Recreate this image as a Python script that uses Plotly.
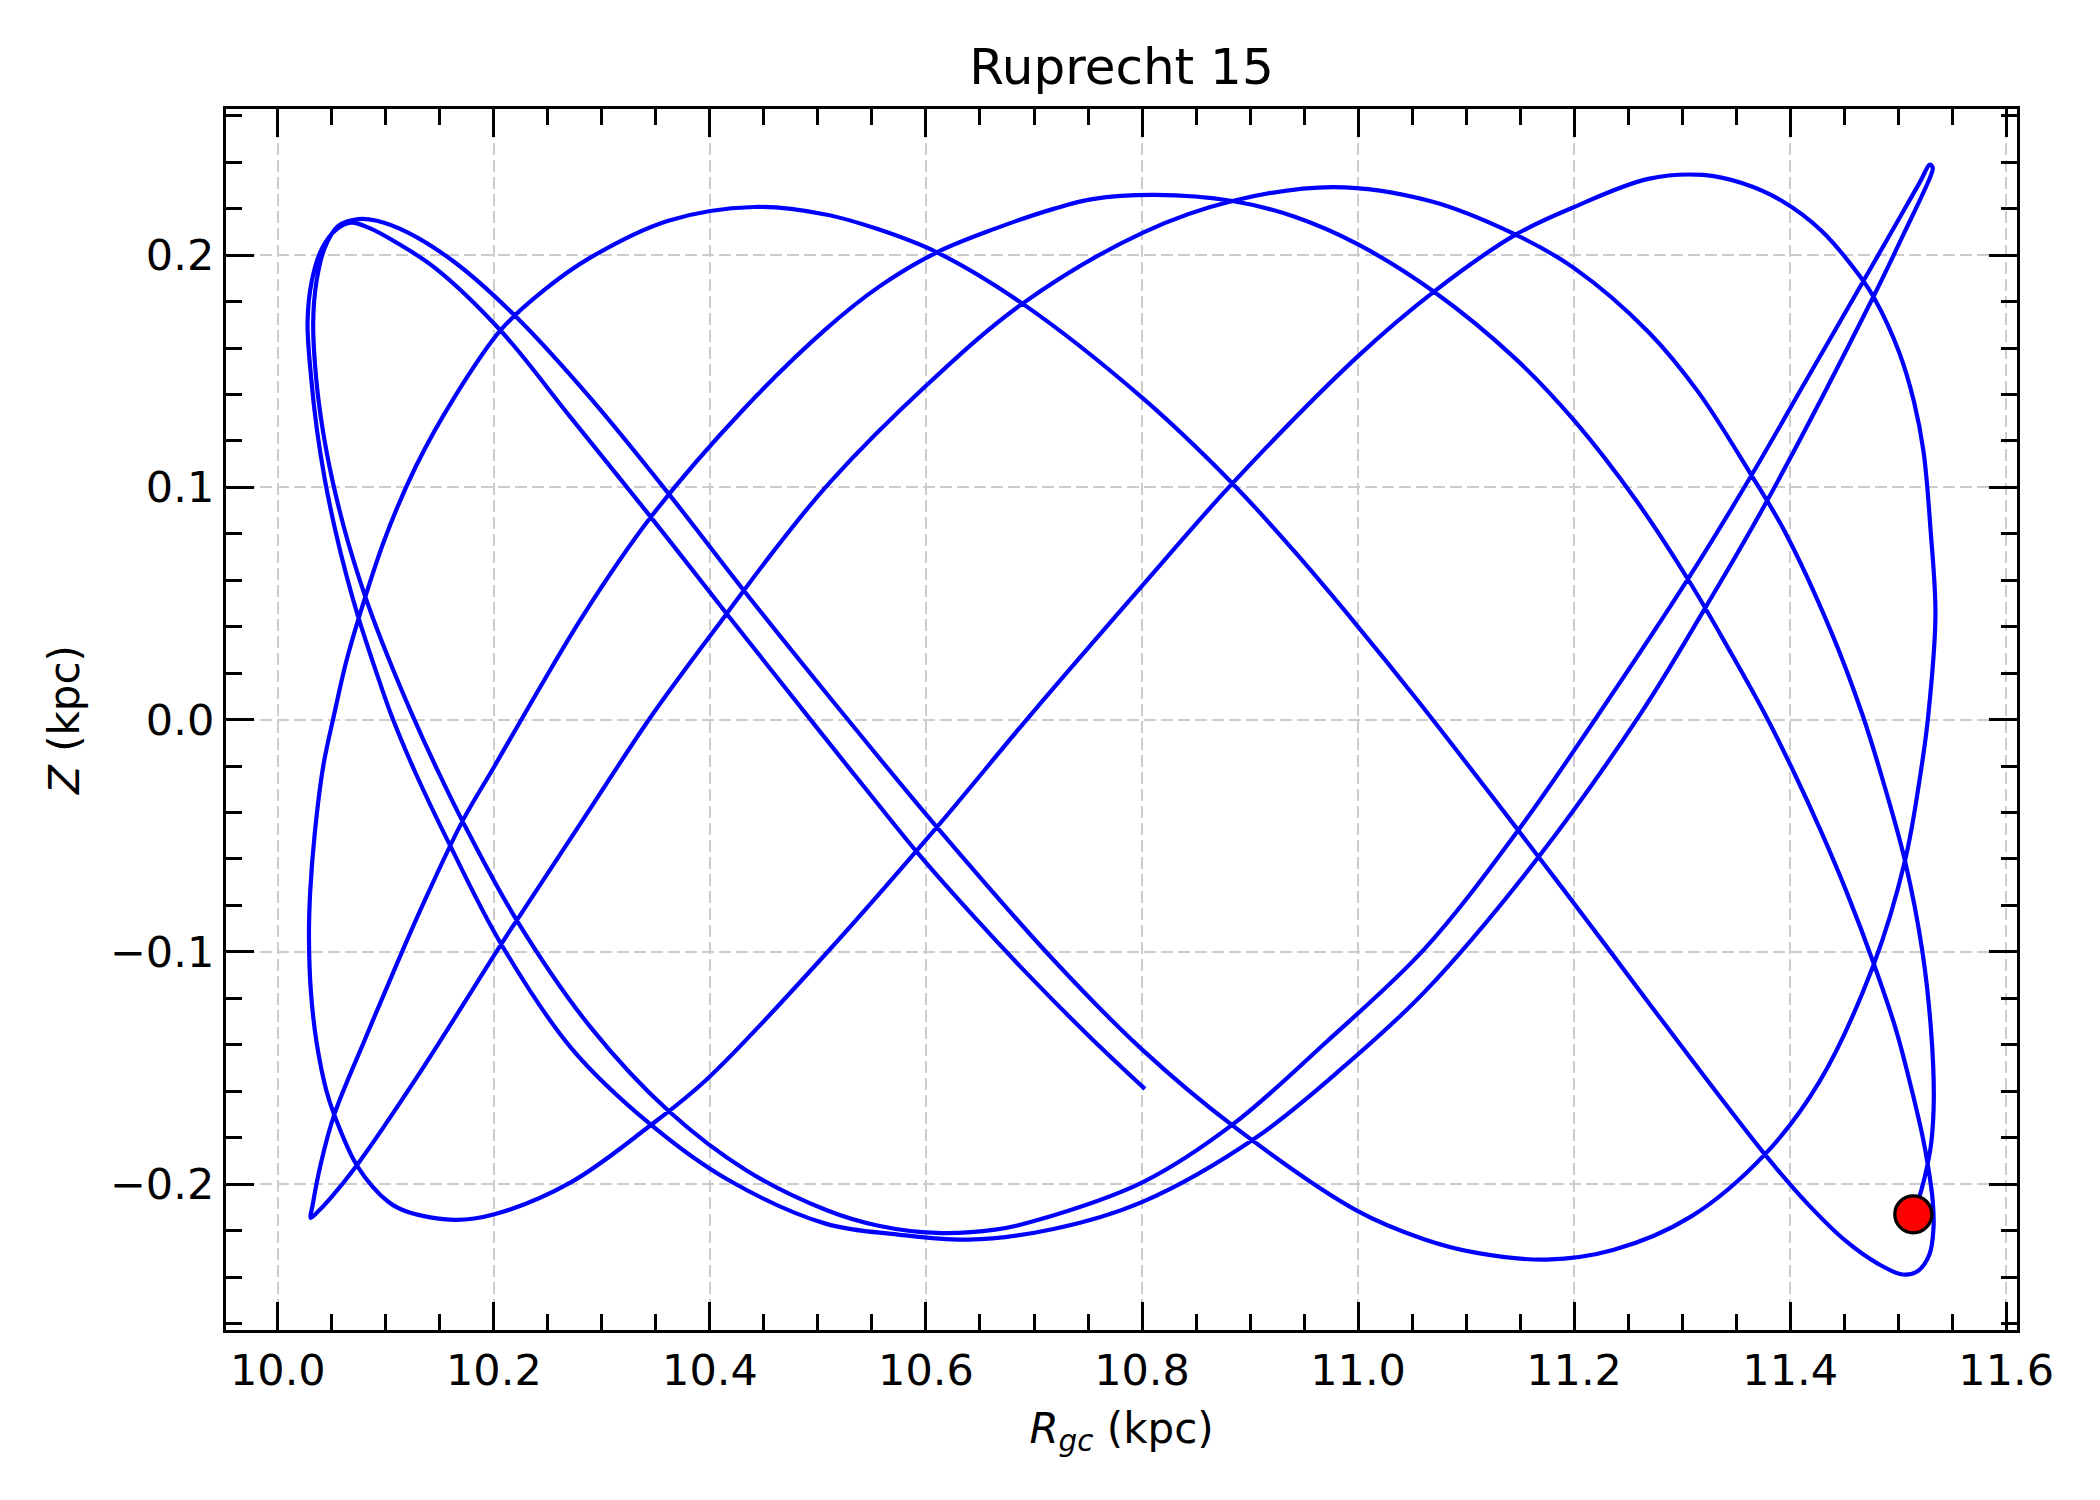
import plotly.graph_objects as go

# Orbit of Ruprecht 15 in the meridional plane.
# Legs are in time order, from the free end of the track to the present position.

# free end -> upper-left loop -> trough -> upper-right cusp
leg1_r = [10.8027, 10.7541, 10.7001, 10.6461, 10.5903, 10.5453, 10.5021, 10.4155, 10.3453,
          10.2716, 10.2068, 10.1457, 10.1097, 10.0845, 10.0680, 10.0540, 10.0410, 10.0315,
          10.0275, 10.0309, 10.0362, 10.0438, 10.0529, 10.0637, 10.0741, 10.0908, 10.1050,
          10.1277, 10.1601, 10.2068, 10.2716, 10.3453, 10.4155, 10.5070, 10.5741, 10.6389,
          10.7181, 10.8009, 10.9053, 10.9881, 11.0620, 11.1658, 11.2613, 11.3225, 11.3784,
          11.4775, 11.5050, 11.5300, 11.5320, 11.5295]
leg1_z = [-0.1590, -0.1377, -0.1125, -0.0857, -0.0563, -0.0304, -0.0053, 0.0456, 0.0872,
          0.1298, 0.1672, 0.1944, 0.2054, 0.2117, 0.2140, 0.2110, 0.2030, 0.1890,
          0.1712, 0.1468, 0.1247, 0.1026, 0.0821, 0.0617, 0.0447, 0.0209, 0.0020,
          -0.0232, -0.0548, -0.0967, -0.1414, -0.1744, -0.1978, -0.2170, -0.2217, -0.2239,
          -0.2193, -0.2075, -0.1800, -0.1489, -0.1170, -0.0599, 0.0024, 0.0490, 0.0940,
          0.1825, 0.2090, 0.2340, 0.2375, 0.2390]

# cusp -> trough -> second upper-left loop
leg2_r = [11.5200, 11.5000, 11.4690, 11.4150, 11.3642, 11.3081, 11.2180, 11.1477, 11.0620,
          10.9701, 10.8837, 10.8009, 10.7001, 10.6641, 10.6101, 10.5561, 10.5070, 10.4335,
          10.3615, 10.2896, 10.2212, 10.1709, 10.1475, 10.1241, 10.1072, 10.0872, 10.0747,
          10.0616, 10.0507, 10.0416, 10.0355, 10.0327, 10.0357, 10.0433, 10.0557, 10.0742]
leg2_z = [0.2313, 0.2150, 0.1898, 0.1462, 0.1052, 0.0625, -0.0009, -0.0480, -0.0985,
          -0.1390, -0.1744, -0.1991, -0.2159, -0.2196, -0.2210, -0.2179, -0.2110, -0.1940,
          -0.1684, -0.1325, -0.0864, -0.0437, -0.0215, 0.0024, 0.0209, 0.0447, 0.0617,
          0.0821, 0.1026, 0.1247, 0.1468, 0.1706, 0.1884, 0.2030, 0.2125, 0.2155]

# loop -> lower-right trough -> outer right side -> peak near 11.3 kpc
leg3_r = [10.0917, 10.1205, 10.1637, 10.2212, 10.2896, 10.3615, 10.4317, 10.5119, 10.6101,
          10.7181, 10.8009, 10.8837, 10.9989, 11.0610, 11.1099, 11.1748, 11.2360, 11.3081,
          11.3766, 11.4270, 11.4775, 11.5063, 11.5207, 11.5280, 11.5345, 11.5301, 11.5235,
          11.5147, 11.5008, 11.4782, 11.4658, 11.4292, 11.3925, 11.3559, 11.3193]
leg3_z = [0.2148, 0.2097, 0.1969, 0.1731, 0.1383, 0.0974, 0.0554, 0.0090, -0.0463,
          -0.1035, -0.1424, -0.1747, -0.2114, -0.2237, -0.2296, -0.2325, -0.2284, -0.2140,
          -0.1872, -0.1560, -0.1052, -0.0608, -0.0232, 0.0024, 0.0450, 0.0809, 0.1153,
          0.1368, 0.1583, 0.1812, 0.1901, 0.2104, 0.2233, 0.2309, 0.2345]

# peak -> lower-left bowl -> peak near 10.44 kpc -> lower-right loop
leg4_r = [11.2686, 11.2000, 11.1459, 11.0700, 11.0000, 10.8837, 10.8009, 10.6950, 10.6101,
          10.5021, 10.3975, 10.3435, 10.2716, 10.1996, 10.1637, 10.1205, 10.1025, 10.0737,
          10.0522, 10.0450, 10.0360, 10.0306, 10.0288, 10.0299, 10.0342, 10.0421, 10.0522,
          10.0629, 10.0755, 10.0989, 10.1277, 10.1637, 10.2068, 10.2464, 10.2896, 10.3615,
          10.4406, 10.5070, 10.5560, 10.6101, 10.6893, 10.8009, 10.8837, 10.9413, 10.9989,
          11.0559, 11.1495, 11.2108, 11.2721, 11.3766, 11.4162, 11.4523, 11.4811, 11.5043,
          11.5182, 11.5290, 11.5327, 11.5320, 11.5274, 11.5222, 11.5151]
leg4_z = [0.2328, 0.2207, 0.2088, 0.1842, 0.1565, 0.1017, 0.0580, 0.0010, -0.0463,
          -0.1035, -0.1547, -0.1752, -0.1991, -0.2131, -0.2154, -0.2120, -0.2077, -0.1923,
          -0.1701, -0.1599, -0.1394, -0.1172, -0.0933, -0.0745, -0.0488, -0.0198, 0.0024,
          0.0243, 0.0447, 0.0777, 0.1090, 0.1390, 0.1680, 0.1849, 0.1990, 0.2148,
          0.2207, 0.2175, 0.2111, 0.2012, 0.1791, 0.1383, 0.1017, 0.0723, 0.0406,
          0.0078, -0.0484, -0.0858, -0.1238, -0.1872, -0.2085, -0.2248, -0.2342, -0.2389,
          -0.2374, -0.2302, -0.2188, -0.2073, -0.1915, -0.1786, -0.1643]

# loop -> peak near 10.81 kpc -> lower-left cusp
leg5_r = [11.4984, 11.4775, 11.4525, 11.4292, 11.4040, 11.3766, 11.3441, 11.3081, 11.2577,
          11.2000, 11.1459, 11.0703, 11.0000, 10.9413, 10.8837, 10.8117, 10.7541, 10.7181,
          10.6641, 10.6101, 10.5560, 10.5070, 10.4299, 10.3453, 10.2824, 10.2284, 10.1996,
          10.1709, 10.1342, 10.1097, 10.0809, 10.0522, 10.0396, 10.0324, 10.0305]
leg5_z = [-0.1342, -0.1052, -0.0745, -0.0488, -0.0232, 0.0024, 0.0296, 0.0584, 0.0942,
          0.1288, 0.1553, 0.1842, 0.2046, 0.2165, 0.2233, 0.2259, 0.2241, 0.2199,
          0.2114, 0.2012, 0.1862, 0.1680, 0.1330, 0.0872, 0.0447, 0.0024, -0.0208,
          -0.0437, -0.0797, -0.1057, -0.1374, -0.1701, -0.1915, -0.2085, -0.2145]

# cusp -> peak near 10.98 kpc -> present position
leg6_r = [10.0365, 10.0486, 10.0737, 10.1277, 10.2068, 10.2212, 10.2860, 10.3471, 10.4155,
          10.4622, 10.5119, 10.5993, 10.6893, 10.8009, 10.8837, 10.9773, 11.0666, 11.1459,
          11.2000, 11.2688, 11.3150, 11.3642, 11.3951, 11.4379, 11.4667, 11.4883, 11.5063,
          11.5225, 11.5305, 11.5330, 11.5308, 11.5272, 11.5212, 11.5140]
leg6_z = [-0.2121, -0.2061, -0.1915, -0.1547, -0.0967, -0.0864, -0.0406, 0.0024, 0.0456,
          0.0745, 0.1026, 0.1434, 0.1791, 0.2097, 0.2233, 0.2293, 0.2233, 0.2088,
          0.1944, 0.1669, 0.1410, 0.1052, 0.0809, 0.0379, 0.0024, -0.0301, -0.0608,
          -0.1001, -0.1342, -0.1626, -0.1815, -0.1915, -0.2030, -0.2130]

# present position of the cluster
now_r = [11.514]
now_z = [-0.213]

X_RANGE = [9.952, 11.610]
Y_RANGE = [-0.2628, 0.2629]
FONT = "DejaVu Sans"

# the page body adds an 8 px offset, so the figure is 8 px smaller than the window
W, H = 2092, 1492

orbit_r = leg1_r + leg2_r + leg3_r + leg4_r + leg5_r + leg6_r
orbit_z = leg1_z + leg2_z + leg3_z + leg4_z + leg5_z + leg6_z

fig = go.Figure()
fig.add_trace(go.Scatter(
    x=orbit_r, y=orbit_z,
    mode="lines",
    line=dict(color="#0000ff", width=4.2, shape="spline", smoothing=1.0),
    showlegend=False, hoverinfo="skip",
))
fig.add_trace(go.Scatter(
    x=now_r, y=now_z,
    mode="markers",
    marker=dict(size=37, color="#ff0000", line=dict(color="black", width=3.3)),
    showlegend=False,
))

axis_style = dict(
    showline=True, linecolor="black", linewidth=3.3, mirror="allticks",
    ticks="inside", ticklen=28, tickwidth=3.3, tickcolor="black",
    showgrid=True, gridcolor="#cccccc", gridwidth=2.3, griddash="12px,5px",
    zeroline=False,
    tickfont=dict(family=FONT, size=43, color="black"),
    ticklabelstandoff=0,
)

fig.update_xaxes(
    range=X_RANGE, tick0=10.0, dtick=0.2, tickformat=".1f",
    minor=dict(tick0=10.0, dtick=0.05, ticks="inside", ticklen=16, tickwidth=2.5,
               tickcolor="black", showgrid=False),
    title=dict(text="<i>R<sub>gc</sub></i> (kpc)", font=dict(family=FONT, size=42, color="black"),
               standoff=20),
    **axis_style,
)
fig.update_yaxes(
    range=Y_RANGE, tick0=0.0, dtick=0.1, tickformat=".1f",
    minor=dict(tick0=0.0, dtick=0.02, ticks="inside", ticklen=16, tickwidth=2.5,
               tickcolor="black", showgrid=False),
    title=dict(text="<i>Z</i> (kpc)", font=dict(family=FONT, size=42, color="black"),
               standoff=18),
    **axis_style,
)

fig.update_layout(
    width=W, height=H,
    margin=dict(l=218, r=83, t=101, b=170, autoexpand=False),
    paper_bgcolor="white", plot_bgcolor="white",
    title=dict(text="Ruprecht 15", x=0.5, xref="paper", xanchor="center",
               y=1 - 58 / H, yref="container", yanchor="middle",
               font=dict(family=FONT, size=50, color="black")),
)

fig.write_html("out.html")
